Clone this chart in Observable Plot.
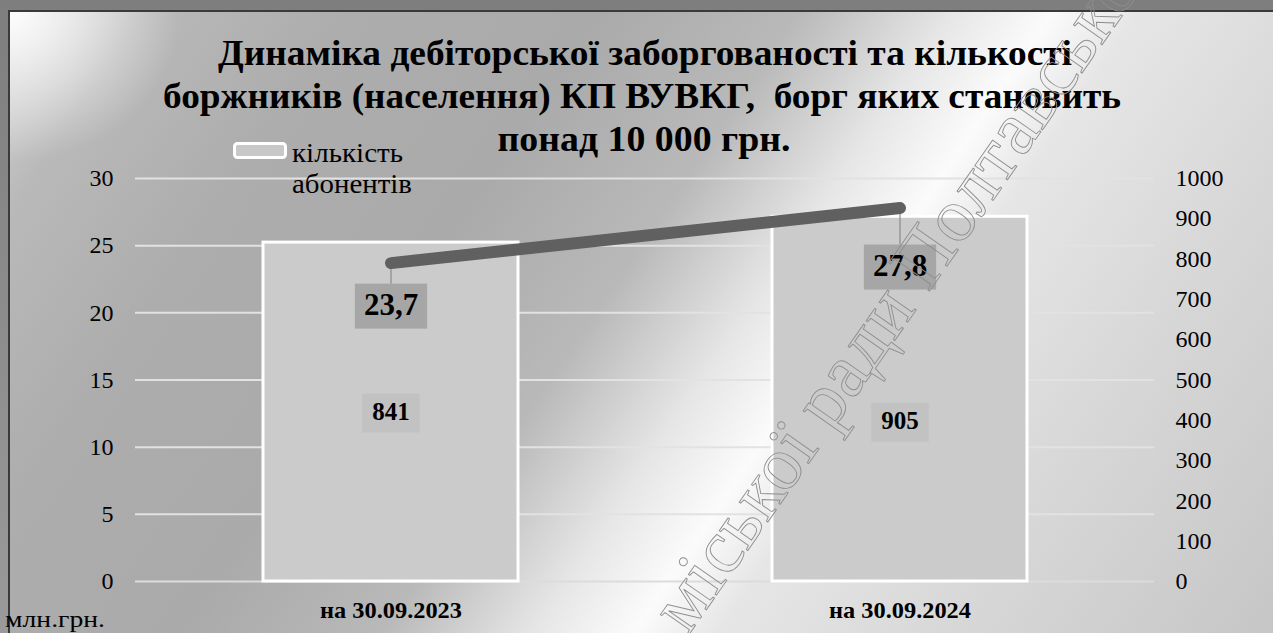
<!DOCTYPE html>
<html>
<head>
<meta charset="utf-8">
<script src="https://cdn.jsdelivr.net/npm/d3@7"></script>
<script src="https://cdn.jsdelivr.net/npm/@observablehq/plot@0.6"></script>
<style>
  html, body { margin: 0; padding: 0; background: #8a8a8a; }
  #wrap { position: relative; width: 1273px; height: 633px; overflow: hidden;
    background: linear-gradient(180deg, #7e7e7e, #9a9a9a); }
  #frame { position: absolute; left: 8px; top: 10px; width: 1265px; height: 623px;
    border-left: 2px solid #3a3a3a; border-top: 2px solid #3a3a3a; box-sizing: border-box;
    background:
      radial-gradient(ellipse 170px 150px at 0% 0%, rgba(255,255,255,0.95), rgba(255,255,255,0) 100%),
      linear-gradient(124deg, #d6d6d6 0%, #b9b9b9 8%, #adadad 20%, #aaaaaa 35%, #b9b9b9 47%, #e6e6e6 56%, #fbfbfb 62%, #e6e6e6 67%, #d8d8d8 80%, #c6c6c6 100%);
  }
  #chart { position: absolute; left: 0; top: 0; }
  #over { position: absolute; left: 0; top: 0; pointer-events: none; }
  svg text { font-family: 'Liberation Serif', 'Tinos', 'Times New Roman', serif !important; }
</style>
</head>
<body>
<div id="wrap">
  <div id="frame"></div>
  <div id="chart"></div>
  <svg id="over" width="1273" height="633" fill="#000">
    <text font-weight="bold" font-size="36" text-anchor="middle" x="645" y="65" textLength="854" lengthAdjust="spacingAndGlyphs">Динаміка дебіторської заборгованості та кількості</text>
    <text font-weight="bold" font-size="36" text-anchor="middle" x="642" y="108" textLength="958" lengthAdjust="spacingAndGlyphs" xml:space="preserve">боржників (населення) КП ВУВКГ,  борг яких становить</text>
    <text font-weight="bold" font-size="36" text-anchor="middle" x="644" y="151" textLength="293" lengthAdjust="spacingAndGlyphs">понад 10 000 грн.</text>
    <rect x="234.5" y="143.5" width="51" height="14" rx="3" fill="#c8c8c8" stroke="#ffffff" stroke-width="3"></rect>
    <text font-size="27" x="292" y="162" textLength="111" lengthAdjust="spacingAndGlyphs">кількість</text>
    <text font-size="27" x="292" y="193" textLength="120" lengthAdjust="spacingAndGlyphs">абонентів</text>
    <text font-size="23" x="5" y="627" textLength="100" lengthAdjust="spacingAndGlyphs">млн.грн.</text>
    <text transform="translate(688,636) rotate(-55)" font-size="76"
      fill="none" stroke="#8e8e8e" stroke-width="0.9">міської ради Полтавської</text>
  </svg>
</div>
<script>
// ---- data ----
const dates = ["на 30.09.2023", "на 30.09.2024"];
const debt = [23.7, 27.8];            // млн.грн. (left axis)
const subscribers = [841, 905];       // кількість абонентів (right axis)
const debtLabels = ["23,7", "27,8"];
const subsLabels = ["841", "905"];
const leftTicks = [0, 5, 10, 15, 20, 25, 30];
const rightTicks = [0, 100, 200, 300, 400, 500, 600, 700, 800, 900, 1000];

// ---- styling constants ----
const serif = "Liberation Serif, Tinos, Times New Roman, DejaVu Serif, serif";
const ratio = 30 / 1000; // right axis -> left axis units
const rows = dates.map((d, i) => ({date: d, debt: debt[i], subs: subscribers[i],
  debtLabel: debtLabels[i], subsLabel: subsLabels[i]}));

function boxed({fill, padX, padY, fontSize, font, offsets, leader}) {
  return function(index, scales, values, dims, ctx, next) {
    const g = next(index, scales, values, dims, ctx);
    const texts = g.querySelectorAll("text");
    const cv = document.createElement("canvas").getContext("2d");
    cv.font = font;
    const ns = "http://www.w3.org/2000/svg";
    index.forEach((i, k) => {
      const t = texts[k];
      const x = values.x[i], y0 = values.y[i];
      const y = y0 + offsets[k];
      t.setAttribute("transform", `translate(${x},${y})`);
      const w = cv.measureText(t.textContent).width + 2 * padX;
      const h = fontSize + 2 * padY;
      const r = document.createElementNS(ns, "rect");
      r.setAttribute("x", x - w / 2); r.setAttribute("y", y - h / 2 + 1);
      r.setAttribute("width", w); r.setAttribute("height", h);
      r.setAttribute("fill", fill); r.setAttribute("stroke", "none");
      g.insertBefore(r, g.firstChild);
      if (leader) {
        const l = document.createElementNS(ns, "line");
        l.setAttribute("x1", x); l.setAttribute("x2", x);
        l.setAttribute("y1", y0 + 6); l.setAttribute("y2", y - h / 2 + 1);
        l.setAttribute("stroke", "#8a8a8a"); l.setAttribute("stroke-width", 1.2);
        g.insertBefore(l, g.firstChild);
      }
    });
    return g;
  };
}

const plot = Plot.plot({
  width: 1273,
  height: 633,
  marginTop: 178,
  marginBottom: 52,
  marginLeft: 135,
  marginRight: 119,
  style: {background: "transparent", color: "#000", overflow: "visible"},
  x: {type: "band", domain: dates, paddingInner: 0.5, paddingOuter: 0.25, label: null},
  y: {domain: [0, 30], label: null},
  marks: [
    Plot.gridY(leftTicks.filter(d => d > 0), {stroke: "#e2e2e2", strokeOpacity: 1, strokeWidth: 2}),
    Plot.ruleY([0], {stroke: "#dcdcdc", strokeWidth: 2}),
    Plot.barY(rows, {x: "date", y: d => d.subs * ratio, fill: "#cbcbcb", stroke: "#ffffff", strokeWidth: 3}),
    Plot.text(rows, {x: "date", y: d => d.subs * ratio / 2, text: "subsLabel",
      fontSize: 25, fontWeight: "bold", fill: "#000",
      render: boxed({fill: "#c2c2c2", padX: 10, padY: 7, fontSize: 25, font: "bold 25px Liberation Serif", offsets: [0, 22], leader: false})}),
    Plot.line(rows, {x: "date", y: "debt", stroke: "#606060", strokeWidth: 12, strokeLinecap: "round"}),
    Plot.text(rows, {x: "date", y: "debt", text: "debtLabel",
      fontSize: 31, fontWeight: "bold", fill: "#000",
      render: boxed({fill: "#a6a6a6", padX: 9, padY: 7, fontSize: 31, font: "bold 31px Liberation Serif", offsets: [42, 58], leader: true})}),
    Plot.axisY(leftTicks, {anchor: "left", tickSize: 0, tickPadding: 22, fontSize: 24, label: null}),
    Plot.axisY(rightTicks.map(v => v * ratio), {anchor: "right", tickSize: 0, tickPadding: 21, fontSize: 24,
      tickFormat: v => String(Math.round(v / ratio)), label: null}),
    Plot.axisX({tickSize: 0, tickPadding: 20, fontSize: 23, fontWeight: "bold", label: null})
  ]
});
// apply the serif face directly on every text element
plot.setAttribute("font-family", serif);
plot.querySelectorAll("text").forEach(t => {
  t.setAttribute("font-family", serif);
  if (dates.includes(t.textContent)) {
    t.setAttribute("textLength", 142);
    t.setAttribute("lengthAdjust", "spacingAndGlyphs");
  }
});
document.querySelectorAll("#over text").forEach(t => {
  t.setAttribute("font-family", serif);
});
document.getElementById("chart").appendChild(plot);
</script>
</body>
</html>
